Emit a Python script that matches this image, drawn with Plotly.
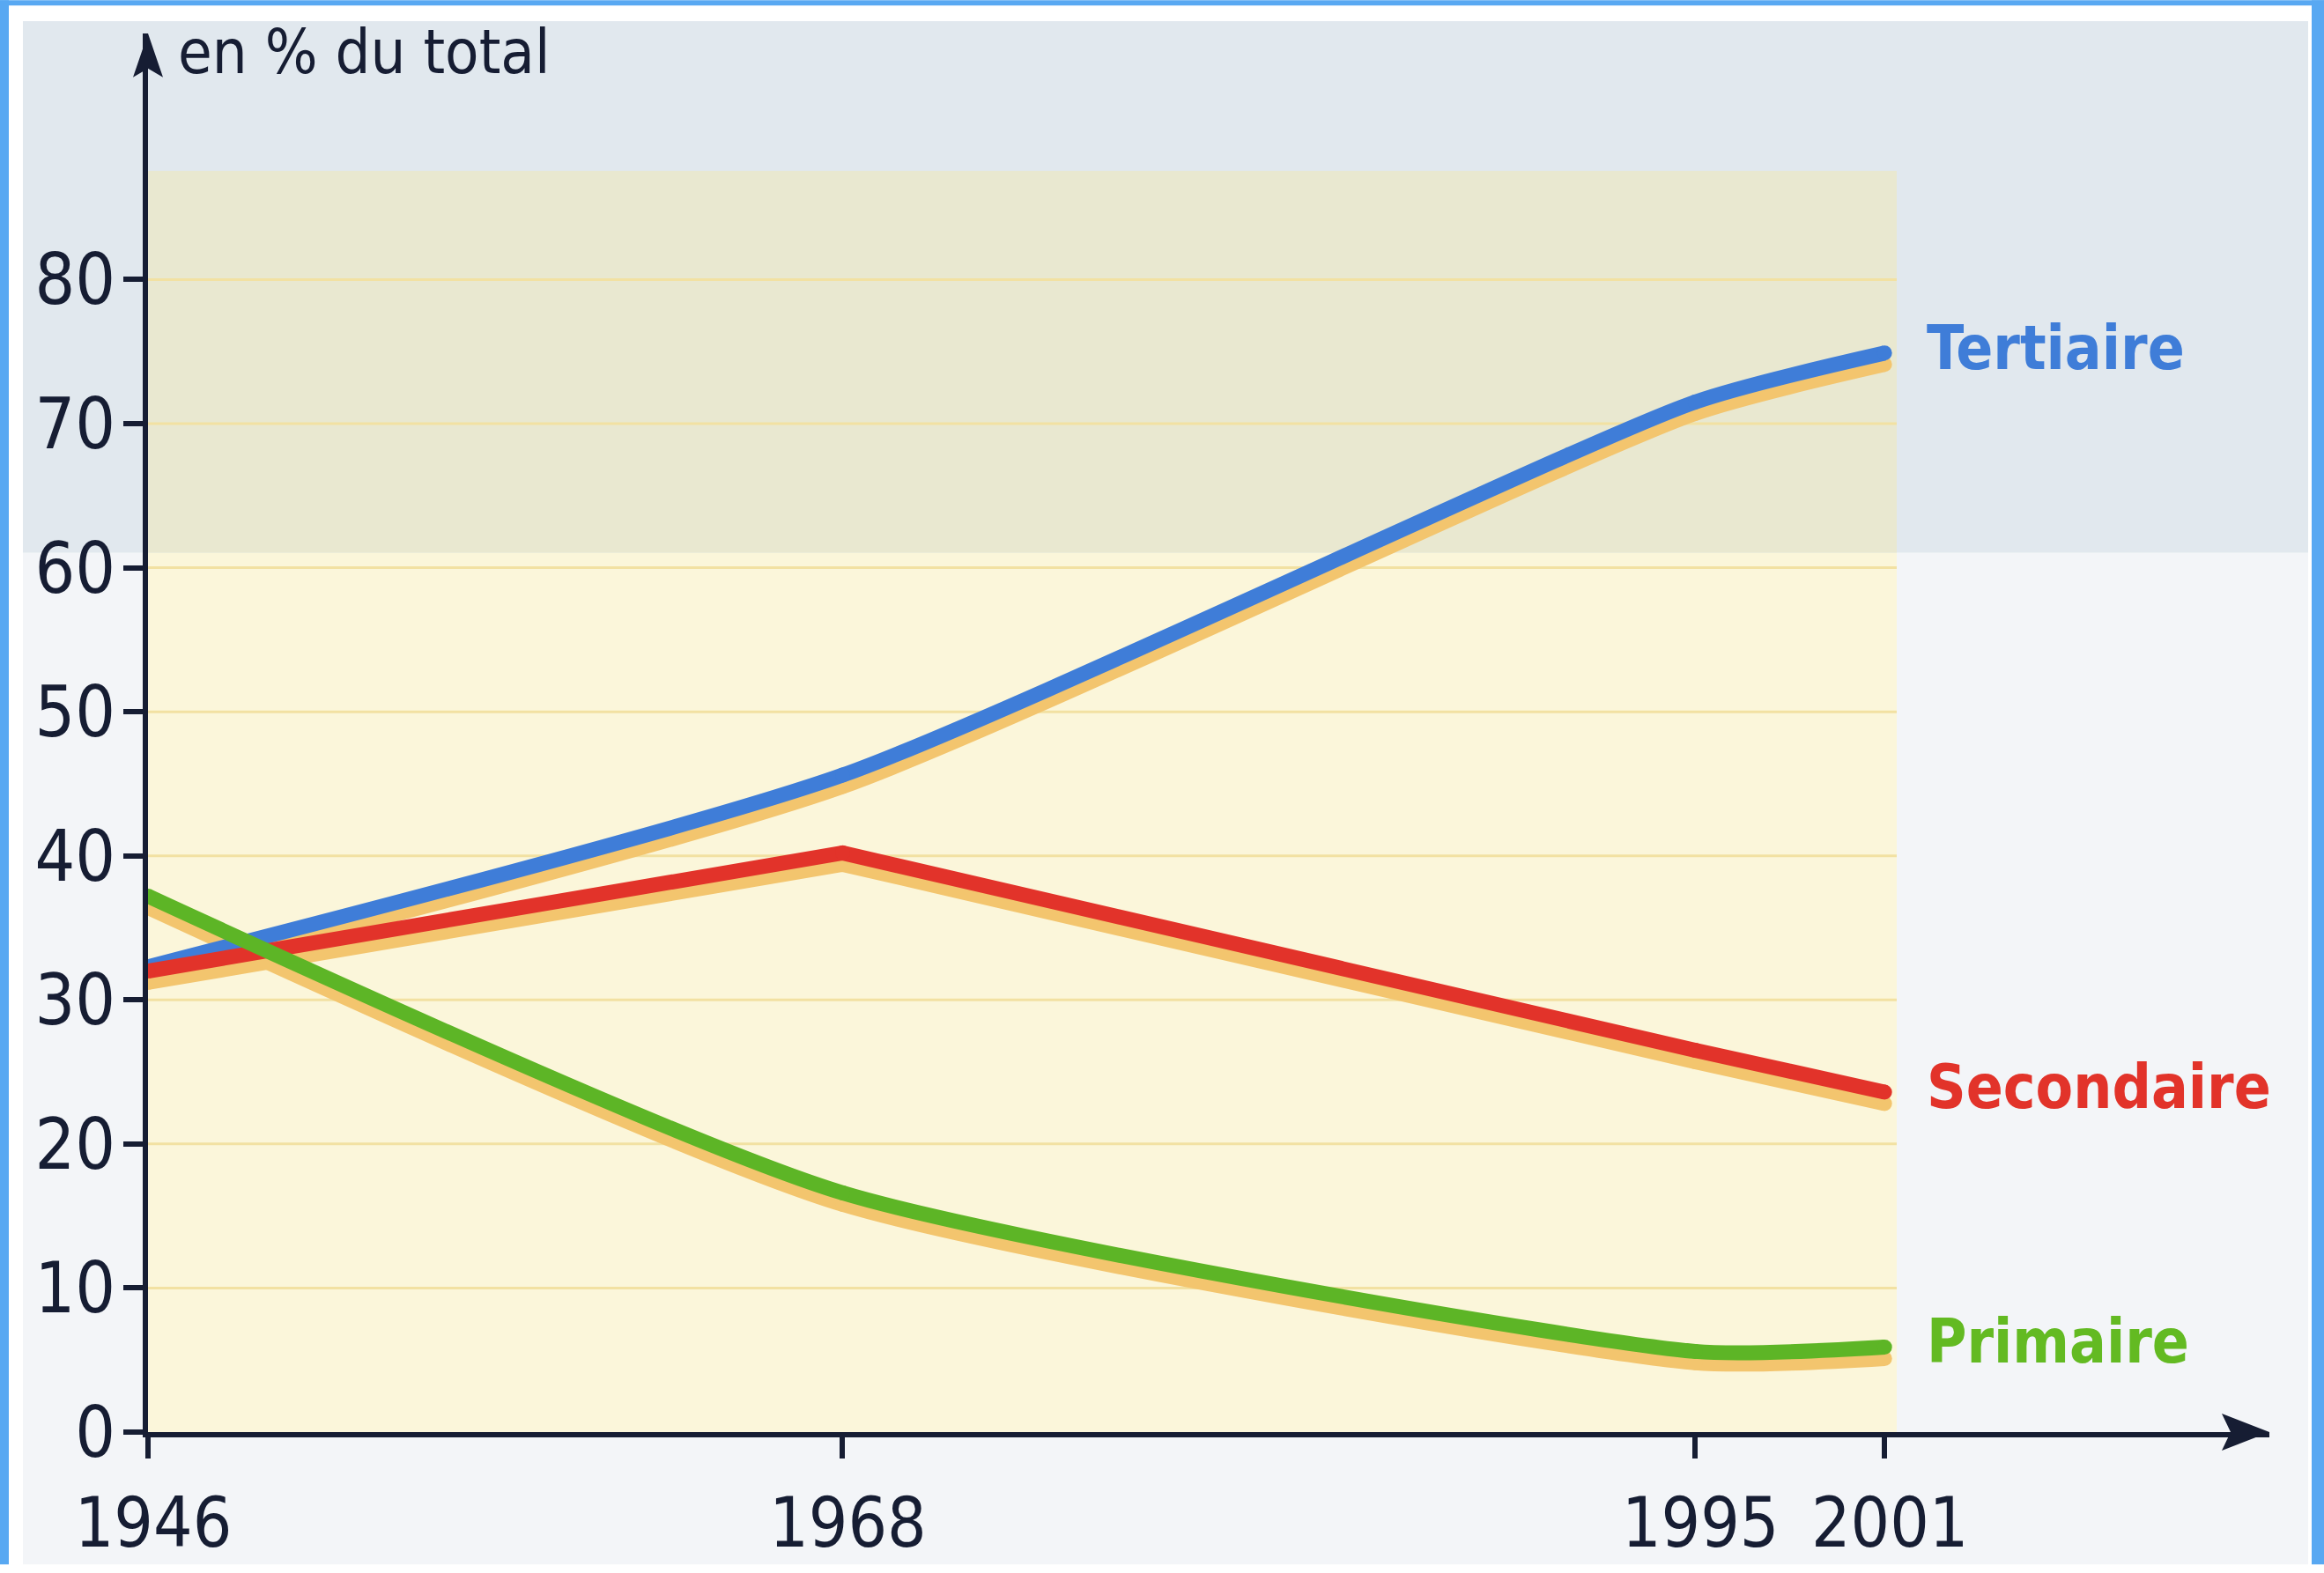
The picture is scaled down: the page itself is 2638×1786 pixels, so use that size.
import plotly.graph_objects as go

# ---------------- data ----------------
YEARS = [1946, 1968, 1995, 2001]
YEAR_LABELS = ["1946", "1968", "1995", "2001"]
TERTIAIRE = [32.3, 45.6, 71.5, 74.9]
SECONDAIRE = [32.0, 40.2, 26.5, 23.6]
PRIMAIRE = [37.2, 16.6, 5.6, 5.9]
Y_TICKS = [0, 10, 20, 30, 40, 50, 60, 70, 80]
SERIES_NAMES = ["Tertiaire", "Secondaire", "Primaire"]
Y_TITLE = "en % du total"

# ---------------- geometry / style ----------------
W, H = 2638, 1786
L, R, T, B = 168, 62, 38, 151          # plot area = axes frame
PW, PH = W - L - R, H - T - B
PX_PER_YEAR = 35.84
PX_PER_UNIT = 16.45
X_END = YEARS[0] + PW / PX_PER_YEAR
Y_END = PH / PX_PER_UNIT
SHADOW_PX = 13
SHADOW = SHADOW_PX / PX_PER_UNIT
LINE_W = 17

NAVY = "#161D33"
BLUE = "#3F7DD8"
RED = "#E2332A"
GREEN = "#5DB526"
GREEN_TXT = "#63BA22"
SHADOW_C = "#F3C56E"
FONT = "DejaVu Sans Condensed"


def xp(px):
    return (px - L) / PW


def yp(py):
    return (H - B - py) / PH


fig = go.Figure()

series = [(TERTIAIRE, BLUE, "spline"), (SECONDAIRE, RED, "linear"), (PRIMAIRE, GREEN, "spline")]
# shadows (drawn on shifted axis y2)
for vals, col, shp in series:
    fig.add_trace(go.Scatter(
        x=YEARS, y=vals, yaxis="y2", mode="lines+markers",
        line=dict(color=SHADOW_C, width=LINE_W, shape=shp, smoothing=0.6),
        marker=dict(color=SHADOW_C, size=LINE_W), hoverinfo="skip", showlegend=False))
# main lines (axis y3, same scale as y)
for (vals, col, shp), name in zip(series, SERIES_NAMES):
    fig.add_trace(go.Scatter(
        x=YEARS, y=vals, yaxis="y3", mode="lines+markers", name=name,
        line=dict(color=col, width=LINE_W, shape=shp, smoothing=0.6),
        marker=dict(color=col, size=LINE_W), hoverinfo="skip", showlegend=False))

shapes = []


def rect(x0, y0, x1, y1, color):
    shapes.append(dict(type="rect", xref="paper", yref="paper", x0=xp(x0), x1=xp(x1), y0=yp(y1), y1=yp(y0),
                       fillcolor=color, line_width=0, layer="below"))


# page background
rect(0, 0, W, H, "#FFFFFF")
rect(26, 24, 2620, 631, "#E1E8EE")
rect(26, 631, 2620, H, "#F3F5F8")
# blue frame
rect(0, 0, W, 6, "#58A8F2")
rect(0, 0, 10, H, "#58A8F2")
rect(2624, 0, W, H, "#58A8F2")
# yellow panel
rect(L, 195, 2153, 631, "#E9E8D0")
rect(L, 631, 2153, H - B, "#FBF6DA")
# grid lines in the panel
for v in Y_TICKS[1:]:
    shapes.append(dict(type="line", xref="paper", yref="y", x0=0, x1=xp(2153), y0=v, y1=v,
                       line=dict(color="#F2E1A2", width=3), layer="below"))


def ppath(points):
    s = "M " + " L ".join(f"{xp(a):.5f},{yp(b):.5f}" for a, b in points) + " Z"
    return dict(type="path", xref="paper", yref="paper", path=s, fillcolor=NAVY, line_width=0, layer="above")


# arrow heads (pixel positions of the frame)
ay_tip = T
shapes.append(ppath([(L - 17, ay_tip + 50), (L, ay_tip), (L + 17, ay_tip + 50), (L, ay_tip + 40)]))
ax_tip = W - R
ybase = H - B
shapes.append(ppath([(ax_tip - 54, ybase - 21), (ax_tip, ybase), (ax_tip - 54, ybase + 21), (ax_tip - 44, ybase)]))

annotations = [
    dict(text=Y_TITLE, xref="paper", yref="paper", x=xp(200), y=yp(59), xanchor="left", yanchor="middle",
         showarrow=False, font=dict(family=FONT, size=70, color=NAVY)),
]
for vals, col, name in [(TERTIAIRE, BLUE, SERIES_NAMES[0]), (SECONDAIRE, RED, SERIES_NAMES[1]),
                        (PRIMAIRE, GREEN_TXT, SERIES_NAMES[2])]:
    annotations.append(dict(text=name, xref="x", yref="y", x=YEARS[-1], y=vals[-1], xshift=46, yshift=6,
                            xanchor="left", yanchor="middle", showarrow=False,
                            font=dict(family=FONT, size=69, color=col, weight="bold")))

fig.update_layout(
    width=W, height=H,
    margin=dict(l=L, r=R, t=T, b=B, pad=0),
    paper_bgcolor="#FFFFFF", plot_bgcolor="rgba(0,0,0,0)",
    showlegend=False,
    xaxis=dict(range=[YEARS[0], X_END], tickvals=YEARS, ticktext=YEAR_LABELS,
               showgrid=False, zeroline=False, showline=True, linecolor=NAVY, linewidth=6,
               ticks="outside", ticklen=24, tickwidth=6, tickcolor=NAVY,
               tickfont=dict(family=FONT, size=78, color=NAVY), ticklabelstandoff=6, ticklabelshift=6),
    yaxis=dict(range=[0, Y_END], tickvals=Y_TICKS, showgrid=False, zeroline=False,
               showline=True, linecolor=NAVY, linewidth=6,
               ticks="outside", ticklen=22, tickwidth=6, tickcolor=NAVY,
               tickfont=dict(family=FONT, size=80, color=NAVY), ticklabelstandoff=-7),
    yaxis2=dict(range=[SHADOW, Y_END + SHADOW], overlaying="y", visible=False),
    yaxis3=dict(range=[0, Y_END], overlaying="y", visible=False),
    shapes=shapes, annotations=annotations,
)

fig.write_html("out.html", config={"displayModeBar": False},
               post_script="document.body.style.margin='0px';")
